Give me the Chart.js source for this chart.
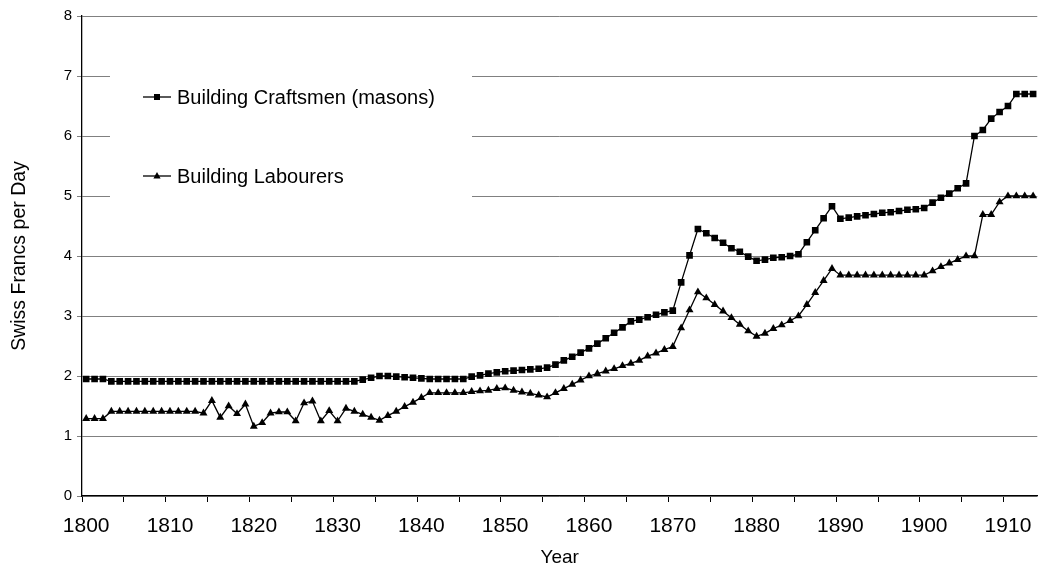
<!DOCTYPE html>
<html>
<head>
<meta charset="utf-8">
<script src="https://cdn.jsdelivr.net/npm/chart.js@4/dist/chart.umd.min.js"></script>
<style>
  html, body { margin: 0; padding: 0; background: #fff; }
  #c { display: block; }
</style>
</head>
<body>
<canvas id="c" width="1042" height="567"></canvas>
<script>
const years = [
  1800,1801,1802,1803,1804,1805,1806,1807,1808,1809,
  1810,1811,1812,1813,1814,1815,1816,1817,1818,1819,
  1820,1821,1822,1823,1824,1825,1826,1827,1828,1829,
  1830,1831,1832,1833,1834,1835,1836,1837,1838,1839,
  1840,1841,1842,1843,1844,1845,1846,1847,1848,1849,
  1850,1851,1852,1853,1854,1855,1856,1857,1858,1859,
  1860,1861,1862,1863,1864,1865,1866,1867,1868,1869,
  1870,1871,1872,1873,1874,1875,1876,1877,1878,1879,
  1880,1881,1882,1883,1884,1885,1886,1887,1888,1889,
  1890,1891,1892,1893,1894,1895,1896,1897,1898,1899,
  1900,1901,1902,1903,1904,1905,1906,1907,1908,1909,
  1910,1911,1912,1913
];

// Building Craftsmen (masons), Swiss francs per day
const craftsmen = [
  1.95,1.95,1.95,1.91,1.91,1.91,1.91,1.91,1.91,1.91,
  1.91,1.91,1.91,1.91,1.91,1.91,1.91,1.91,1.91,1.91,
  1.91,1.91,1.91,1.91,1.91,1.91,1.91,1.91,1.91,1.91,
  1.91,1.91,1.91,1.94,1.97,2.00,2.00,1.99,1.98,1.97,
  1.96,1.95,1.95,1.95,1.95,1.95,1.99,2.01,2.04,2.06,
  2.08,2.09,2.10,2.11,2.12,2.14,2.19,2.26,2.32,2.39,
  2.46,2.54,2.63,2.72,2.81,2.91,2.94,2.98,3.02,3.06,
  3.09,3.56,4.01,4.45,4.38,4.30,4.22,4.13,4.07,3.99,
  3.92,3.94,3.97,3.98,4.00,4.03,4.23,4.43,4.63,4.83,
  4.62,4.64,4.66,4.68,4.70,4.72,4.73,4.75,4.77,4.78,
  4.80,4.89,4.97,5.04,5.13,5.21,6.00,6.10,6.29,6.40,
  6.50,6.70,6.70,6.70
];

// Building Labourers, Swiss francs per day
const labourers = [
  1.29,1.29,1.29,1.41,1.41,1.41,1.41,1.41,1.41,1.41,
  1.41,1.41,1.41,1.41,1.38,1.59,1.31,1.50,1.37,1.53,
  1.16,1.22,1.38,1.40,1.40,1.25,1.55,1.58,1.25,1.42,
  1.25,1.46,1.41,1.36,1.31,1.26,1.34,1.41,1.49,1.56,
  1.64,1.72,1.72,1.72,1.72,1.72,1.74,1.75,1.76,1.79,
  1.80,1.76,1.73,1.71,1.68,1.65,1.72,1.79,1.86,1.93,
  2.00,2.04,2.08,2.12,2.17,2.21,2.26,2.33,2.38,2.44,
  2.49,2.80,3.10,3.40,3.30,3.19,3.08,2.97,2.86,2.75,
  2.66,2.71,2.79,2.85,2.92,3.00,3.19,3.39,3.59,3.79,
  3.68,3.68,3.68,3.68,3.68,3.68,3.68,3.68,3.68,3.68,
  3.68,3.75,3.82,3.88,3.94,4.00,4.00,4.69,4.69,4.90,
  5.00,5.00,5.00,5.00
];

const seriesNames = ['Building Craftsmen (masons)', 'Building Labourers'];
const yAxisTitle = 'Swiss Francs per Day';
const xAxisTitle = 'Year';
const labelEvery = 10;
const tickEvery = 5;

const FONT = "'Liberation Sans', Arial, Helvetica, sans-serif";

const insideLegend = {
  id: 'insideLegend',
  beforeDatasetsDraw(chart) {
    const ctx = chart.ctx;
    ctx.save();
    ctx.fillStyle = '#fff';
    ctx.fillRect(110, 58, 362, 156);
    const rows = [
      { y: 97, style: 'rect', text: seriesNames[0] },
      { y: 176, style: 'triangle', text: seriesNames[1] }
    ];
    rows.forEach(r => {
      ctx.strokeStyle = '#000';
      ctx.lineWidth = 1.3;
      ctx.beginPath();
      ctx.moveTo(143, r.y);
      ctx.lineTo(171, r.y);
      ctx.stroke();
      ctx.fillStyle = '#000';
      const cx = 157;
      if (r.style === 'rect') {
        ctx.fillRect(cx - 3, r.y - 3, 6, 6);
      } else {
        ctx.beginPath();
        ctx.moveTo(cx, r.y - 4);
        ctx.lineTo(cx + 3.6, r.y + 2.5);
        ctx.lineTo(cx - 3.6, r.y + 2.5);
        ctx.closePath();
        ctx.fill();
      }
      ctx.font = '20px ' + FONT;
      ctx.textBaseline = 'middle';
      ctx.textAlign = 'left';
      ctx.fillText(r.text, 177, r.y + 1);
    });
    ctx.restore();
  }
};

new Chart(document.getElementById('c'), {
  type: 'line',
  data: {
    labels: years,
    datasets: [
      {
        label: seriesNames[0],
        data: craftsmen,
        borderColor: '#000',
        borderWidth: 1.3,
        backgroundColor: '#000',
        pointStyle: 'rect',
        pointRadius: 4.7,
        pointBackgroundColor: '#000',
        pointBorderColor: '#000',
        pointBorderWidth: 0,
        tension: 0,
        fill: false
      },
      {
        label: seriesNames[1],
        data: labourers,
        borderColor: '#000',
        borderWidth: 1.3,
        backgroundColor: '#000',
        pointStyle: 'triangle',
        pointRadius: 4.6,
        pointBackgroundColor: '#000',
        pointBorderColor: '#000',
        pointBorderWidth: 0,
        tension: 0,
        fill: false
      }
    ]
  },
  options: {
    responsive: false,
    animation: false,
    devicePixelRatio: 1,
    layout: { padding: { left: 0, right: 0, top: 16, bottom: 0 } },
    plugins: {
      legend: { display: false },
      tooltip: { enabled: false }
    },
    scales: {
      x: {
        type: 'category',
        offset: true,
        afterFit(scale) {
          scale.height = 71;
          scale.paddingLeft = 0;
          scale.paddingRight = 0;
        },
        border: { display: true, color: '#000', width: 1.3 },
        grid: {
          display: true,
          offset: true,
          drawOnChartArea: false,
          drawTicks: true,
          tickLength: 6,
          tickWidth: 1,
          tickColor: (c) => (typeof c.index === 'number' && c.index % tickEvery === 0) ? '#000' : 'rgba(0,0,0,0)'
        },
        ticks: {
          autoSkip: false,
          maxRotation: 0,
          minRotation: 0,
          padding: 12,
          color: '#000',
          font: { family: FONT, size: 21 },
          callback: function(value, index) {
            return index % labelEvery === 0 ? String(years[index]) : '';
          }
        },
        title: {
          display: true,
          text: xAxisTitle,
          color: '#000',
          font: { family: FONT, size: 19, lineHeight: 1 },
          padding: { top: 0, bottom: 0 }
        }
      },
      y: {
        min: 0,
        max: 8,
        afterFit(scale) { scale.width = 82; },
        border: { display: true, color: '#000', width: 1.3 },
        grid: {
          color: '#808080',
          lineWidth: 1,
          drawTicks: true,
          tickLength: 5,
          tickColor: '#808080'
        },
        ticks: {
          stepSize: 1,
          padding: 5,
          color: '#000',
          font: { family: FONT, size: 15 }
        },
        title: {
          display: true,
          text: yAxisTitle,
          color: '#000',
          font: { family: FONT, size: 19.5, lineHeight: 1 },
          padding: { top: 10, bottom: 0 }
        }
      }
    }
  },
  plugins: [insideLegend]
});
</script>
</body>
</html>
